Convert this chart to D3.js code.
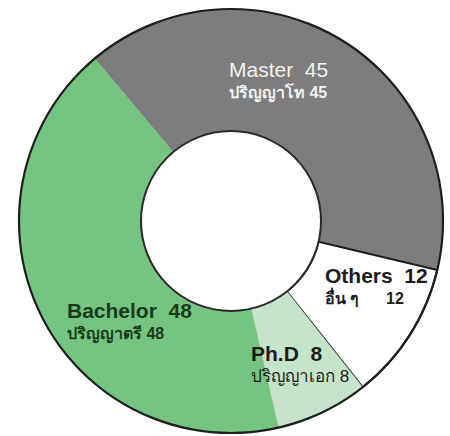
<!DOCTYPE html>
<html>
<head>
<meta charset="utf-8">
<script src="https://cdn.jsdelivr.net/npm/d3@7"></script>
<style>
  html, body { margin: 0; padding: 0; background: #ffffff; }
  svg { display: block; }
  text { font-family: "Liberation Sans", Arial, "DejaVu Sans", sans-serif; }
</style>
</head>
<body>
<svg id="chart" width="450" height="436"></svg>
<script>
// ---- data ----
const categories = ["Master", "Others", "Ph.D", "Bachelor"];
const thaiNames  = ["ปริญญาโท", "อื่น ๆ", "ปริญญาเอก", "ปริญญาตรี"];
const values     = [45, 12, 8, 48];

// ---- layout / style ----
const W = 450, H = 436;
const cx = 231, cy = 221;
const outerR = 212, innerR = 90;
const startDeg = -40;

const fills   = { "Master": "#7d7d7d", "Others": "#ffffff", "Ph.D": "#c6e4c9", "Bachelor": "#76c482" };
const stroked = { "Others": true };
const labelStyle = {
  "Master":   { dx: -2,   dy: -144, fill: "#f2f2f2", w1: "normal", fs1: 21, w2: "bold",   fs2: 16, gap: "\u00a0\u00a0", gap2: " " },
  "Others":   { dx: 94,   dy: 62,   fill: "#1c1c1c", w1: "bold",   fs1: 21, w2: "bold",   fs2: 16, gap: "\u00a0\u00a0", gap2: "\u00a0\u00a0\u00a0\u00a0\u00a0\u00a0" },
  "Ph.D":     { dx: 20,   dy: 140,  fill: "#1c1c1c", w1: "bold",   fs1: 21, w2: "normal", fs2: 17, gap: "\u00a0\u00a0", gap2: " " },
  "Bachelor": { dx: -164, dy: 97,   fill: "#163c1c", w1: "bold",   fs1: 21, w2: "bold",   fs2: 16, gap: "\u00a0\u00a0", gap2: " " }
};

const data = categories.map((c, i) => ({ name: c, thai: thaiNames[i], value: values[i] }));

const svg = d3.select("#chart");
const g = svg.append("g").attr("transform", `translate(${cx},${cy})`);

const pie = d3.pie()
  .value(d => d.value)
  .sort(null)
  .startAngle(startDeg * Math.PI / 180)
  .endAngle((startDeg + 360) * Math.PI / 180);

const arc = d3.arc().innerRadius(innerR).outerRadius(outerR);
const arcs = pie(data);

g.selectAll("path.slice")
  .data(arcs)
  .join("path")
  .attr("class", "slice")
  .attr("d", arc)
  .attr("fill", d => fills[d.data.name])
  .attr("stroke", d => stroked[d.data.name] ? "#1e1e1e" : fills[d.data.name])
  .attr("stroke-width", d => stroked[d.data.name] ? 2 : 0.5)
  .attr("stroke-linejoin", "round");

// outer & inner rims
g.append("circle").attr("r", outerR).attr("fill", "none").attr("stroke", "#1e1e1e").attr("stroke-width", 2.2);
g.append("circle").attr("r", innerR).attr("fill", "#ffffff").attr("stroke", "#2a2a2a").attr("stroke-width", 2);

// labels
const labels = g.selectAll("g.label")
  .data(arcs)
  .join("g")
  .attr("class", "label")
  .attr("transform", d => `translate(${labelStyle[d.data.name].dx},${labelStyle[d.data.name].dy})`);

labels.append("text")
  .attr("x", 0).attr("y", 0)
  .attr("fill", d => labelStyle[d.data.name].fill)
  .attr("font-size", d => labelStyle[d.data.name].fs1)
  .attr("font-weight", d => labelStyle[d.data.name].w1)
  .text(d => d.data.name + labelStyle[d.data.name].gap + d.data.value);

labels.append("text")
  .attr("x", 0).attr("y", 21)
  .attr("fill", d => labelStyle[d.data.name].fill)
  .attr("font-size", d => labelStyle[d.data.name].fs2)
  .attr("font-weight", d => labelStyle[d.data.name].w2)
  .text(d => d.data.thai + labelStyle[d.data.name].gap2 + d.data.value);
</script>
</body>
</html>
